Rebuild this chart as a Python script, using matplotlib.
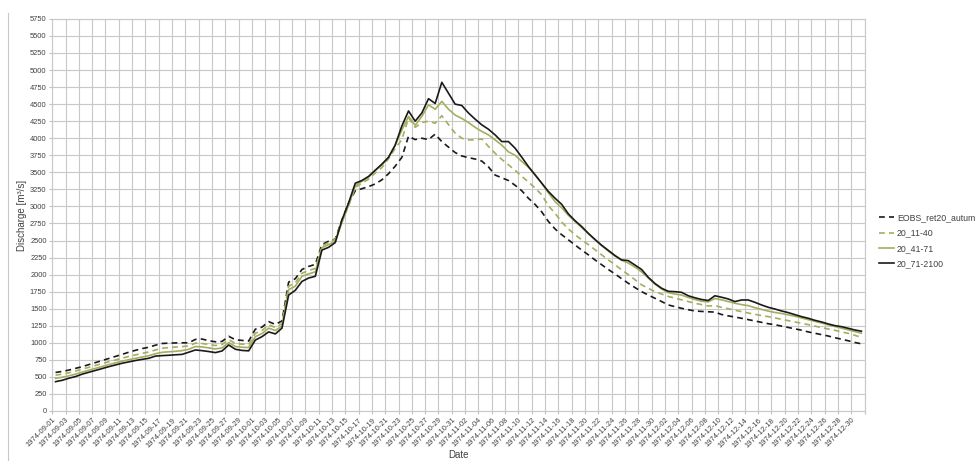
import matplotlib
matplotlib.use("Agg")
import matplotlib.pyplot as plt
from matplotlib.lines import Line2D
import numpy as np
import pandas as pd

plt.rcParams["font.family"] = ["Liberation Sans", "DejaVu Sans"]

# daily categories 1974-09-01 .. 1974-12-31
dates = pd.date_range("1974-09-01", "1974-12-31").strftime("%Y-%m-%d").tolist()

eobs = [565, 580, 600, 625, 650, 680, 710, 740, 770, 800,
        830, 862, 890, 915, 935, 965, 990, 995, 998, 1000,
        1000, 1050, 1055, 1030, 1015, 1020, 1095, 1045, 1035, 1025,
        1200, 1230, 1310, 1270, 1320, 1890, 1940, 2075, 2120, 2150,
        2440, 2490, 2520, 2800, 3050, 3230, 3260, 3290, 3330, 3390,
        3480, 3590, 3720, 4030, 3980, 4000, 3980, 4060, 3950, 3870,
        3790, 3740, 3715, 3695, 3665, 3580, 3460, 3420, 3380, 3310,
        3230, 3120, 3030, 2920, 2780, 2670, 2585, 2510, 2435, 2360,
        2290, 2215, 2145, 2075, 2010, 1940, 1873, 1810, 1750, 1700,
        1653, 1605, 1555, 1530, 1506, 1485, 1467, 1460, 1455, 1450,
        1415, 1395, 1378, 1360, 1340, 1320, 1300, 1280, 1265, 1245,
        1225, 1205, 1185, 1160, 1140, 1120, 1100, 1075, 1053, 1030,
        1005, 985]

s_11_40 = [525, 540, 560, 585, 615, 640, 668, 695, 722, 748,
           775, 800, 822, 845, 865, 895, 920, 930, 937, 944,
           955, 995, 990, 975, 960, 975, 1045, 990, 980, 975,
           1140, 1180, 1265, 1225, 1280, 1830, 1880, 2020, 2060, 2090,
           2420, 2470, 2520, 2790, 3010, 3280, 3340, 3400, 3490, 3570,
           3700, 3850, 3980, 4300, 4160, 4230, 4250, 4220, 4330, 4200,
           4075, 4000, 3975, 3975, 3990, 3880, 3780, 3690, 3610, 3530,
           3440, 3360, 3270, 3170, 3010, 2900, 2770, 2670, 2585, 2510,
           2440, 2365, 2290, 2215, 2145, 2070, 2000, 1925, 1850, 1800,
           1750, 1715, 1680, 1655, 1630, 1605, 1580, 1560, 1540, 1545,
           1520, 1500, 1477, 1457, 1437, 1418, 1400, 1384, 1365, 1345,
           1325, 1306, 1287, 1267, 1245, 1223, 1203, 1184, 1160, 1139,
           1110, 1080]

s_41_71 = [480, 495, 515, 540, 570, 598, 625, 652, 680, 705,
           730, 752, 772, 792, 810, 840, 860, 868, 875, 885,
           905, 945, 940, 925, 910, 925, 1003, 945, 935, 930,
           1090, 1135, 1215, 1180, 1245, 1780, 1830, 1975, 2010, 2040,
           2395, 2440, 2490, 2760, 3020, 3300, 3370, 3430, 3530, 3610,
           3720, 3900, 4120, 4320, 4190, 4320, 4490, 4425, 4540, 4425,
           4340, 4290, 4230, 4160, 4100, 4050, 3975, 3900, 3800, 3750,
           3660, 3575, 3465, 3340, 3200, 3070, 2980, 2870, 2780, 2690,
           2600, 2510, 2425, 2345, 2270, 2210, 2170, 2110, 2040, 1950,
           1860, 1790, 1735, 1715, 1700, 1665, 1635, 1610, 1600, 1650,
           1630, 1605, 1580, 1560, 1545, 1515, 1490, 1465, 1445, 1430,
           1410, 1390, 1365, 1340, 1315, 1290, 1265, 1240, 1215, 1190,
           1165, 1140]

s_71_2100 = [430, 450, 480, 505, 540, 568, 595, 622, 650, 675,
             700, 720, 740, 757, 773, 805, 812, 817, 824, 830,
             862, 895, 885, 872, 856, 880, 968, 905, 888, 882,
             1040, 1090, 1160, 1130, 1215, 1700, 1770, 1900, 1950, 1975,
             2360, 2400, 2470, 2800, 3050, 3340, 3380, 3440, 3530, 3620,
             3720, 3900, 4180, 4400, 4250, 4370, 4580, 4510, 4820, 4660,
             4500, 4480, 4370, 4280, 4196, 4132, 4049, 3951, 3951, 3854,
             3722, 3585, 3463, 3341, 3219, 3120, 3030, 2890, 2790, 2705,
             2605, 2515, 2430, 2355, 2280, 2215, 2205, 2140, 2075, 1960,
             1870, 1800, 1755, 1750, 1740, 1690, 1660, 1635, 1620, 1690,
             1668, 1643, 1604, 1628, 1628, 1594, 1555, 1521, 1496, 1467,
             1443, 1413, 1384, 1360, 1330, 1306, 1277, 1252, 1237, 1213,
             1188, 1170]

OLIVE = "#a6ad5e"
TXT = "#404040"

fig = plt.figure(figsize=(9.76, 4.61), dpi=100)
ax = fig.add_axes([0.0535, 0.1085, 0.8325, 0.8505])

x = np.arange(len(dates)) + 0.5  # points sit in the middle of each day's category
ax.plot(x, eobs, color="#1a1a1a", lw=1.2, ls=(0, (3.5, 2.5)), label="EOBS_ret20_autum")
ax.plot(x, s_11_40, color=OLIVE, lw=1.2, ls=(0, (3.5, 2.5)), label="20_11-40")
ax.plot(x, s_41_71, color=OLIVE, lw=1.2, label="20_41-71")
ax.plot(x, s_71_2100, color="#1a1a1a", lw=1.2, label="20_71-2100")

ax.set_xlim(0, len(dates))
ax.set_ylim(0, 5750)
ax.set_yticks(np.arange(0, 5751, 250))
ticks = list(range(0, len(dates) + 1, 2))
ax.set_xticks(ticks)
ax.set_xticklabels([dates[t] if t < len(dates) else "" for t in ticks],
                   rotation=45, ha="right", rotation_mode="anchor")

ax.grid(True, color="#c8c8c8", lw=0.8)
ax.set_axisbelow(True)
for s in ax.spines.values():
    s.set_color("#c8c8c8")
    s.set_linewidth(0.8)
ax.tick_params(axis="both", colors="#c0c0c0", length=2.5, width=0.8,
               labelsize=5.4, labelcolor=TXT, pad=1.5)

ax.set_ylabel("Discharge [m³/s]", fontsize=7, color=TXT, labelpad=2)
ax.set_xlabel("Date", fontsize=7, color=TXT, labelpad=1)

fig.legend(loc="center left", bbox_to_anchor=(0.893, 0.478), frameon=False,
           fontsize=6.3, handlelength=1.7, handletextpad=0.3, labelspacing=0.7,
           labelcolor=TXT)

# outer chart border on the left
fig.add_artist(Line2D([8 / 976, 8 / 976], [0, 1 - 13 / 461], color="#c8c8c8", lw=0.8))

fig.savefig("out.png", dpi=100)
